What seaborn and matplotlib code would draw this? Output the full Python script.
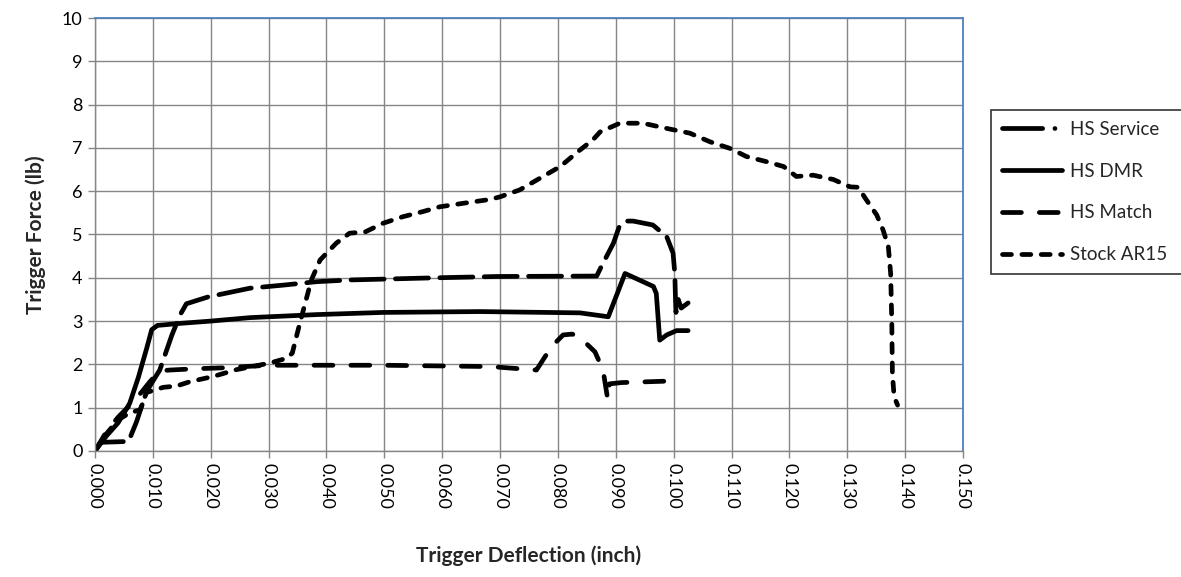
import pandas as pd
import matplotlib
matplotlib.use("Agg")
import matplotlib.pyplot as plt
import seaborn as sns

# Trigger pull curves
service_x = [0.000, 0.0010, 0.0058, 0.0072, 0.0089, 0.0112, 0.0133, 0.0147, 0.0158, 0.0196,
             0.0268, 0.0325, 0.0383, 0.0440, 0.0590, 0.0694, 0.0867, 0.0875, 0.0896, 0.0907,
             0.0919, 0.0930, 0.0964, 0.0988, 0.0999, 0.1002, 0.1003, 0.1004, 0.1008, 0.1013, 0.1025]
service_y = [0.00, 0.20, 0.22, 0.68, 1.37, 1.87, 2.68, 3.14, 3.40, 3.56,
             3.76, 3.83, 3.91, 3.95, 4.00, 4.03, 4.04, 4.26, 4.80, 5.22,
             5.31, 5.31, 5.22, 4.95, 4.57, 4.10, 3.60, 3.20, 3.50, 3.30, 3.42]

dmr_x = [0.000, 0.0020, 0.0040, 0.0060, 0.0075, 0.0090, 0.0098, 0.0108, 0.0150, 0.0200,
         0.0268, 0.0383, 0.0498, 0.0665, 0.0838, 0.0887, 0.0916, 0.0965, 0.0970, 0.0976,
         0.0988, 0.1005, 0.1025]
dmr_y = [0.00, 0.35, 0.65, 1.10, 1.70, 2.40, 2.80, 2.90, 2.95, 3.00,
         3.08, 3.15, 3.20, 3.22, 3.19, 3.10, 4.10, 3.80, 3.64, 2.56,
         2.68, 2.78, 2.78]

match_x = [0.000, 0.0020, 0.0040, 0.0060, 0.0080, 0.0095, 0.0112, 0.0130, 0.0176, 0.0220,
           0.0300, 0.0500, 0.0683, 0.0763, 0.0789, 0.0809, 0.0825, 0.0843, 0.0864, 0.0878,
           0.0886, 0.0889, 0.0910, 0.1005]
match_y = [0.00, 0.45, 0.78, 1.05, 1.35, 1.60, 1.85, 1.87, 1.90, 1.92,
           1.98, 1.98, 1.95, 1.87, 2.41, 2.68, 2.70, 2.56, 2.29, 1.87,
           1.20, 1.55, 1.58, 1.62]

stock_x = [0.000, 0.0020, 0.0040, 0.0060, 0.0078, 0.0089, 0.0118, 0.0141, 0.0164, 0.0204,
           0.0245, 0.0268, 0.0302, 0.0331, 0.0341, 0.0354, 0.0374, 0.0389, 0.0417, 0.0440,
           0.0467, 0.0498, 0.0532, 0.0567, 0.0596, 0.0636, 0.0683, 0.0700, 0.0734, 0.0769,
           0.0804, 0.0838, 0.0860, 0.0873, 0.0907, 0.0947, 0.0988, 0.1028, 0.1063, 0.1097,
           0.1126, 0.1161, 0.1190, 0.1212, 0.1241, 0.1276, 0.1305, 0.1319, 0.1333, 0.1351,
           0.1362, 0.1371, 0.1375, 0.1377, 0.1378, 0.1381, 0.1387]
stock_y = [0.00, 0.40, 0.72, 0.88, 0.95, 1.35, 1.47, 1.50, 1.60, 1.72,
           1.88, 1.94, 2.03, 2.14, 2.26, 2.95, 3.95, 4.41, 4.80, 5.03,
           5.06, 5.26, 5.41, 5.53, 5.64, 5.72, 5.81, 5.87, 6.03, 6.30,
           6.57, 6.95, 7.18, 7.37, 7.57, 7.57, 7.45, 7.34, 7.14, 6.99,
           6.80, 6.68, 6.57, 6.34, 6.37, 6.27, 6.10, 6.09, 5.80, 5.45,
           5.10, 4.72, 4.10, 2.95, 1.79, 1.25, 1.06]

series_names = ["HS Service", "HS DMR", "HS Match", "Stock AR15"]

frames = []
for name, xs, ys in zip(series_names,
                        [service_x, dmr_x, match_x, stock_x],
                        [service_y, dmr_y, match_y, stock_y]):
    frames.append(pd.DataFrame({"Deflection": xs, "Force": ys, "Series": name}))
df = pd.concat(frames, ignore_index=True)

sns.set_theme(style="white")
plt.rcParams["font.family"] = ["Lato", "DejaVu Sans"]

fig = plt.figure(figsize=(11.81, 5.77), dpi=100)
ax = fig.add_axes([0.0804, 0.2184, 0.7350, 0.7504])

line_dashes = {"HS Service": (7, 2.4), "HS DMR": "", "HS Match": (4, 3.8), "Stock AR15": (1.9, 2.2)}
sns.lineplot(data=df, x="Deflection", y="Force", hue="Series", style="Series",
             hue_order=series_names, style_order=series_names,
             palette=["black"] * 4, dashes=line_dashes, sort=False, estimator=None,
             linewidth=3.4, ax=ax)
for ln in ax.lines:
    ln.set_dash_capstyle("round")
    ln.set_solid_capstyle("round")

ax.set_xlim(0, 0.15)
ax.set_ylim(0, 10)
ax.set_xticks([i / 100 for i in range(16)])
ax.set_xticklabels([f"{i / 100:.3f}" for i in range(16)], rotation=-90)
ax.set_yticks(range(11))
ax.grid(True, color="#868686", linewidth=1.0)
ax.tick_params(axis="both", direction="out", length=5, width=1, color="#868686",
               labelsize=13, labelcolor="black", bottom=True, left=True, pad=4)

for side in ["left", "bottom"]:
    ax.spines[side].set_color("#868686")
    ax.spines[side].set_linewidth(1.0)
for side in ["top", "right"]:
    ax.spines[side].set_color("#4F81BD")
    ax.spines[side].set_linewidth(1.3)

ax.set_xlabel("Trigger Deflection (inch)", fontsize=15, fontweight="bold", labelpad=26)
ax.set_ylabel("Trigger Force (lb)", fontsize=15, fontweight="bold", labelpad=11)

# legend box outside the plot, running past the right edge like the original
handles = ax.get_legend().legend_handles
ax.get_legend().remove()
leg = fig.legend(handles, series_names, loc="upper left", mode="expand",
                 bbox_to_anchor=(0.839, 0.0, 0.2, 0.81),
                 fontsize=13.5, frameon=True, fancybox=False, edgecolor="black",
                 handlelength=3.2, handletextpad=0.4, labelspacing=1.32, borderpad=0.6,
                 borderaxespad=0)
leg.get_frame().set_linewidth(1.2)
for h in leg.get_lines():
    h.set_color("black")
    h.set_linewidth(3.4)
    h.set_dash_capstyle("round")
leg.get_lines()[0].set_dashes((8.5, 2.6, 0.01, 2.6))

fig.savefig("out.png", dpi=100)
